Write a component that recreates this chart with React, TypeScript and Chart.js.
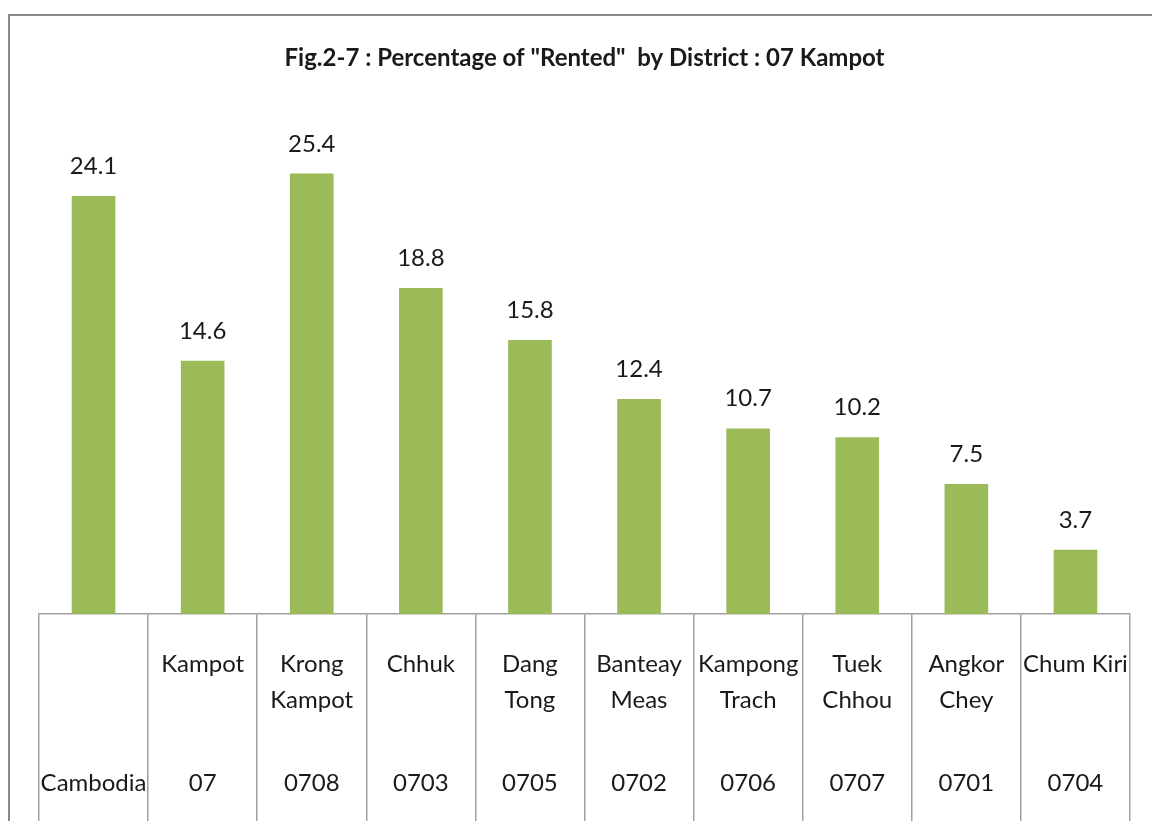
import React, { useEffect, useRef } from "react";
import { Chart, registerables } from "chart.js";

Chart.register(...registerables);

const districtNames: (string | string[])[] = [
  "",
  "Kampot",
  ["Krong", "Kampot"],
  "Chhuk",
  ["Dang", "Tong"],
  ["Banteay", "Meas"],
  ["Kampong", "Trach"],
  ["Tuek", "Chhou"],
  ["Angkor", "Chey"],
  "Chum Kiri",
];
const districtCodes: string[] = ["Cambodia", "07", "0708", "0703", "0705", "0702", "0706", "0707", "0701", "0704"];
const rentedPct: number[] = [24.1, 14.6, 25.4, 18.8, 15.8, 12.4, 10.7, 10.2, 7.5, 3.7];
const titleText = 'Fig.2-7 : Percentage of "Rented"  by District : 07 Kampot';

const FONT = "Lato, 'Open Sans', sans-serif";

const valueLabels = {
  id: "valueLabels",
  afterDatasetsDraw(chart: any) {
    const ctx = chart.ctx;
    const meta = chart.getDatasetMeta(0);
    ctx.save();
    ctx.font = `24px ${FONT}`;
    ctx.fillStyle = "#1a1a1a";
    ctx.textAlign = "center";
    ctx.textBaseline = "alphabetic";
    meta.data.forEach((bar: any, i: number) => {
      ctx.fillText(rentedPct[i].toFixed(1), bar.x, bar.y - 22);
    });
    ctx.restore();
  },
};

export default function App() {
  const ref = useRef<HTMLCanvasElement | null>(null);
  useEffect(() => {
    if (!ref.current) return;
    const chart = new Chart(ref.current, {
      type: "bar",
      data: {
        labels: districtNames as any,
        datasets: [
          {
            data: rentedPct,
            backgroundColor: "#9BBB59",
            borderWidth: 0,
            categoryPercentage: 1,
            barPercentage: 0.4,
          },
        ],
      },
      options: {
        animation: false,
        responsive: true,
        maintainAspectRatio: false,
        layout: { padding: { left: 39, right: 22, top: 0, bottom: 20 } },
        plugins: {
          legend: { display: false },
          tooltip: { enabled: false },
          title: {
            display: true,
            text: titleText,
            color: "#1a1a1a",
            font: { family: FONT, size: 24, weight: "bold", lineHeight: 1.2 },
            padding: { top: 44, bottom: 21 },
          },
        },
        scales: {
          x: {
            type: "category",
            position: "bottom",
            weight: 0,
            offset: true,
            grid: {
              offset: true,
              drawOnChartArea: false,
              drawTicks: true,
              tickLength: 323,
              color: "#a0a0a0",
              lineWidth: 1.5,
            },
            border: { display: true, color: "#a0a0a0", width: 1.5 },
            ticks: {
              autoSkip: false,
              maxRotation: 0,
              minRotation: 0,
              mirror: true,
              padding: -68,
              color: "#1a1a1a",
              font: { family: FONT, size: 24, lineHeight: 1.5 },
            },
          },
          x2: {
            type: "category",
            position: "bottom",
            weight: 1,
            offset: true,
            labels: districtCodes,
            grid: { display: false, drawTicks: false },
            border: { display: false },
            ticks: {
              autoSkip: false,
              maxRotation: 0,
              minRotation: 0,
              mirror: true,
              padding: 0,
              color: "#1a1a1a",
              font: { family: FONT, size: 24, lineHeight: 1.5 },
            },
          },
          y: {
            display: false,
            min: 0,
            max: 30,
          },
        },
      },
      plugins: [valueLabels],
    });
    return () => chart.destroy();
  }, []);

  return (
    <>
      <div
        style={{
          position: "fixed",
          left: 8,
          top: 14,
          width: 2000,
          height: 2000,
          borderTop: "2.5px solid #8a8a8a",
          borderLeft: "2.5px solid #8a8a8a",
          boxSizing: "border-box",
        }}
      />
      <div style={{ position: "fixed", left: 0, top: 0, width: 1152, height: 821 }}>
        <canvas ref={ref} />
      </div>
    </>
  );
}
